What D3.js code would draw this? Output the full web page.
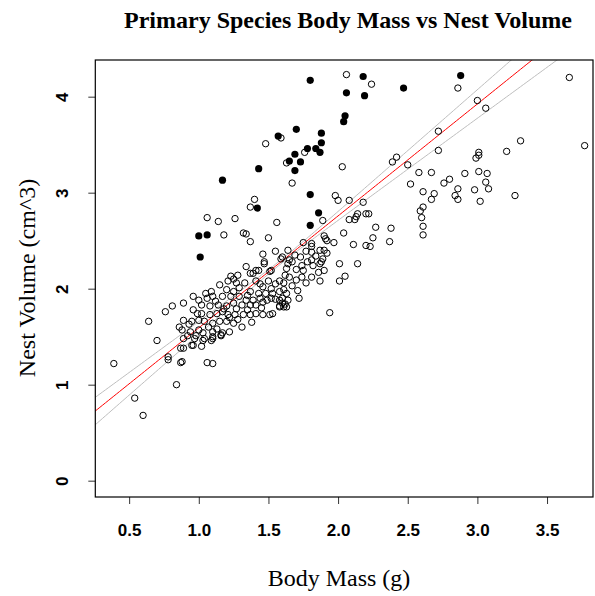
<!DOCTYPE html>
<html>
<head>
<meta charset="utf-8">
<script src="https://cdn.jsdelivr.net/npm/d3@7"></script>
<style>
  body { margin: 0; background: #fff; }
  .tick text { font-family: "Liberation Sans", Arial, sans-serif; font-weight: bold; font-size: 17px; }
</style>
</head>
<body>
<svg width="595" height="596"></svg>
<script>
// other species (open circles): [body mass, nest volume]
var otherSpecies = [
  [2.06,4.23],[2.24,4.13],[3.66,4.20],[2.86,4.09],[3.00,3.96],[3.06,3.88],[2.72,3.64],[2.72,3.44],
  [3.31,3.54],[3.77,3.49],[3.21,3.43],[3.01,3.42],[3.01,3.39],[2.99,3.36],[2.42,3.37],[2.39,3.32],
  [2.50,3.29],[2.58,3.21],[2.52,3.09],[2.67,3.21],[2.91,3.20],[3.01,3.22],[3.07,3.20],[2.80,3.14],
  [2.76,3.10],[3.06,3.11],[3.08,3.04],[2.86,3.04],[2.98,3.03],[2.61,3.01],[2.69,2.99],[2.84,2.97],
  [2.67,2.93],[2.86,2.93],[3.02,2.91],[3.27,2.97],[2.61,2.85],[2.60,2.74],[2.61,2.65],[2.61,2.56],
  [2.59,2.81],[2.27,2.64],[2.38,2.63],[2.25,2.53],[2.37,2.49],[2.23,2.44],[2.11,2.46],[2.04,2.58],
  [2.13,2.75],[2.08,2.72],[2.18,2.90],[2.20,2.78],[2.22,2.78],[2.14,2.78],[2.12,2.72],[2.20,2.45],
  [1.90,2.55],[1.92,2.50],[1.97,2.48],[1.90,2.40],[1.92,2.37],[1.89,2.31],[2.01,2.26],[2.14,2.26],
  [1.87,2.26],[2.05,2.13],[2.01,2.08],[1.87,2.08],[1.72,1.90],[1.94,1.75],[1.53,1.74],[1.46,1.73],
  [1.38,1.65],[1.50,2.53],[1.40,2.93],[2.00,2.92],[2.08,2.92],[1.37,2.49],[1.56,2.69],[1.81,2.47],
  [1.48,3.51],[1.59,3.57],[1.76,3.42],[1.63,3.31],[2.03,3.27],[1.67,3.10],[1.98,2.97],[1.89,2.71],
  [1.91,2.52],[1.75,2.48],[1.55,2.39],[1.64,2.40],[1.77,2.39],[1.81,2.44],[1.81,2.38],[1.87,2.40],
  [1.59,2.31],[1.65,2.30],[1.67,2.28],[1.73,2.33],[1.81,2.30],[1.84,2.34],[1.88,2.28],[1.74,2.24],
  [1.82,2.24],[1.63,2.21],[1.70,2.20],[1.75,2.19],[1.90,2.19],[1.52,2.19],[1.62,2.14],[1.65,2.12],
  [1.74,2.12],[1.81,2.12],[1.77,2.06],[1.70,2.09],[1.61,2.06],[1.61,1.99],[1.52,2.00],[1.60,1.90],
  [1.55,1.89],[1.62,1.84],[1.58,1.82],[1.61,1.81],[1.46,2.36],[1.47,2.28],[1.43,2.19],[1.51,2.18],
  [1.48,1.95],[1.46,1.86],[1.60,2.33],[1.64,2.26],[1.47,2.26],[1.34,2.23],[1.41,2.19],[1.37,2.16],
  [1.58,2.08],[1.23,2.13],[1.21,2.08],[1.27,2.06],[1.33,2.06],[1.41,2.08],[1.46,2.02],[1.58,1.97],
  [1.63,1.95],[1.15,2.04],[1.20,1.99],[1.25,1.97],[1.37,1.97],[1.43,1.95],[1.09,1.97],[1.06,1.90],
  [1.10,1.92],[1.17,1.92],[1.23,1.92],[1.29,1.92],[1.34,1.88],[1.39,1.88],[1.44,1.90],[1.49,1.88],
  [1.52,1.90],[0.96,1.92],[1.00,1.88],[1.02,1.83],[1.08,1.82],[1.14,1.83],[1.20,1.82],[1.25,1.85],
  [1.31,1.83],[1.37,1.83],[1.41,1.83],[1.58,1.88],[1.60,1.85],[1.63,1.81],[1.58,1.81],[0.89,1.85],
  [0.96,1.78],[1.02,1.74],[1.08,1.73],[1.13,1.74],[1.17,1.76],[1.21,1.73],[1.26,1.73],[1.32,1.73],
  [1.37,1.73],[1.41,1.74],[1.51,1.73],[0.95,1.66],[1.00,1.67],[1.04,1.66],[1.10,1.64],[1.15,1.66],
  [1.20,1.66],[1.25,1.64],[1.31,1.60],[0.89,1.67],[0.88,1.57],[0.94,1.55],[1.00,1.57],[1.03,1.54],
  [1.10,1.55],[1.17,1.54],[1.22,1.55],[0.97,1.48],[1.03,1.46],[1.10,1.50],[1.16,1.52],[1.09,1.46],
  [0.89,1.48],[0.89,1.38],[0.96,1.41],[1.02,1.40],[0.88,1.24],[1.06,1.23],[1.10,1.22],[1.64,1.88],
  [1.06,2.74],[1.14,2.70],[1.26,2.73],[1.18,2.56],[1.32,2.58],[1.34,2.57],[1.37,2.85],[1.28,2.14],
  [1.39,2.16],[0.64,1.66],[0.70,1.46],[0.76,1.76],[0.81,1.82],[0.86,1.60],[0.39,1.22],[0.78,1.29],
  [0.78,1.26],[0.87,1.38],[0.87,1.23],[0.95,1.41],[0.84,1.00],[0.54,0.86],[0.60,0.68],[0.92,1.51],
  [0.98,1.51],[1.04,1.48],[1.10,1.48],[1.16,1.51],
  [1.05,1.95],[1.12,1.87],[1.18,1.79],[1.27,1.79],[1.35,1.93],[1.44,2.05],[1.50,2.08],[1.53,1.95],
  [1.29,2.01],[1.22,1.70],[1.07,1.60],[1.13,1.58],[1.28,1.68],[1.35,1.78],[1.45,1.80],[1.55,2.05],
  [1.67,2.03],[1.69,2.35],[1.78,2.28],[1.86,2.17],[1.71,1.98],[0.99,1.74],[0.93,1.63],[1.25,2.10]
];

// primary species (filled circles)
var primarySpecies = [
  [1.80,4.17],[2.18,4.21],[2.47,4.09],[2.06,4.04],[2.19,4.01],[2.05,3.80],[2.04,3.74],[1.70,3.66],
  [1.57,3.59],[1.88,3.62],[1.88,3.52],[1.78,3.46],[1.84,3.46],[1.87,3.42],[1.69,3.40],[1.65,3.33],
  [1.73,3.32],[1.69,3.23],[1.43,3.25],[1.80,2.98],[1.17,3.13],[2.88,4.22],[1.00,2.55],[1.06,2.56],
  [1.01,2.33],[1.42,2.84],[1.86,2.79],[1.80,2.66]
];

// fitted line and confidence band
var fitIntercept = 0.426, fitSlope = 1.166;
var bandMeanX = 1.6, bandA = 0.0004, bandB = 0.0111;

var xTicks = [0.5, 1.0, 1.5, 2.0, 2.5, 3.0, 3.5];
var yTicks = [0, 1, 2, 3, 4];

var svg = d3.select("svg");
var plotLeft = 95.3, plotRight = 593, plotTop = 60, plotBottom = 497;

var x = d3.scaleLinear().domain([0.257, 3.83]).range([plotLeft, plotRight]);
var y = d3.scaleLinear().domain([-0.17, 4.382]).range([plotBottom, plotTop]);

svg.append("defs").append("clipPath").attr("id", "plotClip")
  .append("rect").attr("x", plotLeft).attr("y", plotTop)
  .attr("width", plotRight - plotLeft).attr("height", plotBottom - plotTop);

// fit and confidence band
var xs = d3.range(0.25, 3.85, 0.02);
function fit(v) { return fitIntercept + fitSlope * v; }
function halfWidth(v) { return Math.sqrt(bandA + bandB * (v - bandMeanX) * (v - bandMeanX)); }

var line = d3.line().x(function(d) { return x(d[0]); }).y(function(d) { return y(d[1]); });
var lines = svg.append("g").attr("clip-path", "url(#plotClip)");

lines.append("path")
  .datum(xs.map(function(v) { return [v, fit(v) + halfWidth(v)]; }))
  .attr("d", line).attr("fill", "none").attr("stroke", "#bebebe").attr("stroke-width", 1);
lines.append("path")
  .datum(xs.map(function(v) { return [v, fit(v) - halfWidth(v)]; }))
  .attr("d", line).attr("fill", "none").attr("stroke", "#bebebe").attr("stroke-width", 1);
lines.append("path")
  .datum(xs.map(function(v) { return [v, fit(v)]; }))
  .attr("d", line).attr("fill", "none").attr("stroke", "#ff0000").attr("stroke-width", 1);

// points
var pts = svg.append("g").attr("clip-path", "url(#plotClip)");
pts.selectAll(".other")
  .data(otherSpecies)
  .enter().append("circle")
  .attr("class", "other")
  .attr("cx", function(d) { return x(d[0]); })
  .attr("cy", function(d) { return y(d[1]); })
  .attr("r", 3.2)
  .attr("fill", "none")
  .attr("stroke", "#000")
  .attr("stroke-width", 1);

pts.selectAll(".primary")
  .data(primarySpecies)
  .enter().append("circle")
  .attr("class", "primary")
  .attr("cx", function(d) { return x(d[0]); })
  .attr("cy", function(d) { return y(d[1]); })
  .attr("r", 3.6)
  .attr("fill", "#000");

// axes
var xAxis = svg.append("g")
  .attr("transform", "translate(0," + plotBottom + ")")
  .call(d3.axisBottom(x).tickValues(xTicks).tickFormat(d3.format(".1f")).tickSize(7).tickPadding(20));
xAxis.select(".domain").remove();
xAxis.selectAll("line").attr("stroke", "#333");

var yAxis = svg.append("g")
  .attr("transform", "translate(" + plotLeft + ",0)")
  .call(d3.axisLeft(y).tickValues(yTicks).tickFormat(d3.format("d")).tickSize(7));
yAxis.select(".domain").remove();
yAxis.selectAll("line").attr("stroke", "#333");
yAxis.selectAll("text")
  .attr("x", null).attr("dy", null)
  .attr("text-anchor", "middle")
  .attr("transform", "translate(-33,0) rotate(-90) translate(0,6)");

// box
svg.append("rect")
  .attr("x", plotLeft).attr("y", plotTop)
  .attr("width", plotRight - plotLeft).attr("height", plotBottom - plotTop)
  .attr("fill", "none").attr("stroke", "#000").attr("stroke-width", 1.2);

// titles
svg.append("text")
  .attr("x", 348).attr("y", 28)
  .attr("text-anchor", "middle")
  .style("font-family", "'Liberation Serif', 'Times New Roman', serif")
  .style("font-weight", "bold").style("font-size", "24px")
  .text("Primary Species Body Mass vs Nest Volume");

svg.append("text")
  .attr("x", 339).attr("y", 586)
  .attr("text-anchor", "middle")
  .style("font-family", "'Liberation Serif', 'Times New Roman', serif")
  .style("font-size", "24px")
  .text("Body Mass (g)");

svg.append("text")
  .attr("transform", "translate(35,278) rotate(-90)")
  .attr("text-anchor", "middle")
  .style("font-family", "'Liberation Serif', 'Times New Roman', serif")
  .style("font-size", "24px")
  .text("Nest Volume (cm^3)");
</script>
</body>
</html>
